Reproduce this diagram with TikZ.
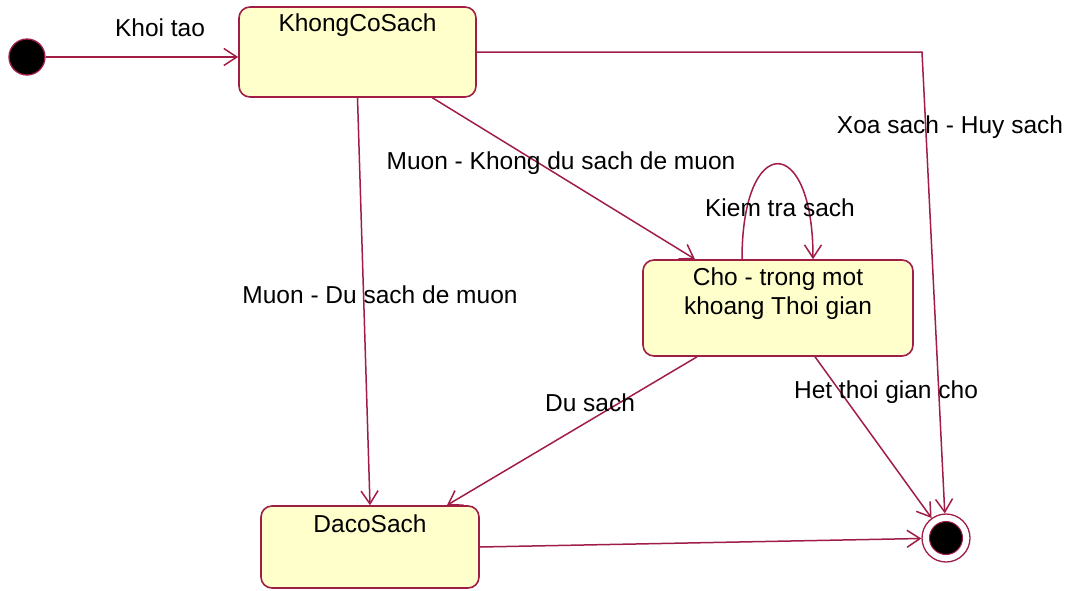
\documentclass[tikz,border=0pt]{standalone}
\usepackage{fontspec}
\setmainfont{Liberation Sans}
\usetikzlibrary{arrows.meta}
\definecolor{rosered}{RGB}{160,30,70}
\definecolor{statefill}{RGB}{255,255,204}

\begin{document}
\begin{tikzpicture}
[every node/.style={inner sep=0pt, font=\fontsize{24.5}{29}\selectfont},
 state/.style={rectangle, rounded corners=11pt, fill=statefill, line width=1.6pt, draw=rosered},
 trans/.style={line width=1.5pt, color=rosered, -{Straight Barb[length=13pt, width=17pt, line width=1.5pt]}}]
\useasboundingbox (0pt, 0pt) rectangle (1068pt, -590pt);
\node (init) [circle, minimum size=36pt, fill=black, line width=1.3pt, draw=rosered] at (27pt, -57pt) {};
\node (KhongCoSach) [state, minimum width=237pt, minimum height=90pt, label={[anchor=center, yshift=-19pt]north:KhongCoSach}] at (357.5pt, -52pt) {};
\node (Cho) [state, minimum width=270pt, minimum height=96pt, label={[anchor=center, yshift=-34pt, align=center]north:{Cho - trong mot\\khoang Thoi gian}}] at (778pt, -308pt) {};
\node (DacoSach) [state, minimum width=218pt, minimum height=82pt, label={[anchor=center, yshift=-19pt]north:DacoSach}] at (370pt, -547pt) {};
\node (final) [circle, minimum size=48pt, fill=white, line width=1.3pt, draw=rosered] at (946pt, -538pt) {};
\filldraw [fill=black, draw=rosered, line width=1pt] (final.center) circle (16.5pt);
\coordinate (corner) at (922pt, -52pt);
\draw [trans] (init) -- (init -| KhongCoSach.west);
\draw [trans] (KhongCoSach.east) -- (corner) -- (final);
\draw [trans] ([xshift=75pt]KhongCoSach.south) -- ([xshift=-83pt]Cho.north);
\draw [trans] (KhongCoSach.south) -- (DacoSach.north);
\draw [trans] ([xshift=-36pt]Cho.north) .. controls +(0pt, 127pt) and +(0pt, 127pt) .. ([xshift=35pt]Cho.north);
\draw [trans] ([xshift=-81pt]Cho.south) -- ([xshift=77pt]DacoSach.north);
\draw [trans] ([xshift=37pt]Cho.south) -- (final);
\draw [trans] (DacoSach.east) -- (final);
\node (khoitao) at (160pt, -28pt) {Khoi tao};
\node (xoasach) at (950pt, -127pt) {Xoa sach - Huy sach};
\node (muonkhong) at (561pt, -163pt) {Muon - Khong du sach de muon};
\node (muondu) at (380pt, -295pt) {Muon - Du sach de muon};
\node (kiemtra) at (780pt, -208pt) {Kiem tra sach};
\node (dusach) at (590pt, -403pt) {Du sach};
\node (hetthoi) at (886pt, -392pt) {Het thoi gian cho};
\end{tikzpicture}
\end{document}
